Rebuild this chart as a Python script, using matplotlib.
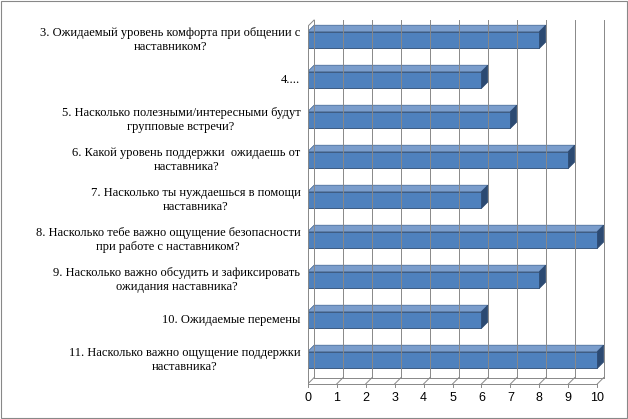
import matplotlib
matplotlib.use('Agg')
import matplotlib.pyplot as plt
from matplotlib.patches import Polygon

questions = [
    "3. Ожидаемый уровень комфорта при общении с\nнаставником?",
    "4....",
    "5. Насколько полезными/интересными будут\nгрупповые встречи?",
    "6. Какой уровень поддержки  ожидаешь от\nнаставника?",
    "7. Насколько ты нуждаешься в помощи\nнаставника?",
    "8. Насколько тебе важно ощущение безопасности\nпри работе с наставником?",
    "9. Насколько важно обсудить и зафиксировать\nожидания наставника?",
    "10. Ожидаемые перемены",
    "11. Насколько важно ощущение поддержки\nнаставника?",
]
scores = [8, 6, 7, 9, 6, 10, 8, 6, 10]
ticks = list(range(0, 11))

plt.rcParams['font.family'] = ['Liberation Serif', 'DejaVu Serif']

fig = plt.figure(figsize=(6.28, 4.19), dpi=100)
ax = fig.add_axes([0.49, 0.074, 0.498, 0.883])
ax.set_xlim(0, 10.8)
ax.set_ylim(8.7, -0.55)
ax.axis('off')

dx, dy = 0.22, 0.16
bottom = 8.6
top = -0.5
grid = '#888888'

# back wall gridlines and floor
for t in ticks:
    ax.plot([t + dx, t + dx], [bottom - dy, top], color=grid, lw=0.7)
    ax.plot([t, t + dx], [bottom, bottom - dy], color=grid, lw=0.7)
ax.plot([0, 10], [bottom, bottom], color=grid, lw=0.7)
ax.plot([dx, 10 + dx], [bottom - dy, bottom - dy], color=grid, lw=0.7)
ax.plot([0, 0], [bottom, top + dy], color=grid, lw=0.7)
ax.plot([0, dx], [top + dy, top], color=grid, lw=0.7)

h = 0.42
for i, v in enumerate(scores):
    y0, y1 = i - h / 2, i + h / 2
    ax.add_patch(Polygon([(0, y0), (dx, y0 - dy), (v + dx, y0 - dy), (v, y0)],
                         closed=True, facecolor='#7A9DCC', edgecolor='#3A5F8F', lw=0.5))
    ax.add_patch(Polygon([(v, y0), (v + dx, y0 - dy), (v + dx, y1 - dy), (v, y1)],
                         closed=True, facecolor='#2C4A72', edgecolor='#2C4A72', lw=0.5))
    ax.add_patch(Polygon([(0, y0), (v, y0), (v, y1), (0, y1)],
                         closed=True, facecolor='#4F81BD', edgecolor='#2C4A72', lw=0.6))
    ax.text(-0.25, i, questions[i], ha='right', va='center', fontsize=9,
            multialignment='center')

for t in ticks:
    ax.plot([t, t], [bottom, bottom + 0.08], color=grid, lw=0.7)
    ax.text(t, bottom + 0.2, str(t), ha='center', va='top', fontsize=9,
            family=['Liberation Sans', 'DejaVu Sans'])

fig.patches.append(Polygon([(0.002, 0.002), (0.998, 0.002), (0.998, 0.998), (0.002, 0.998)],
                           closed=True, fill=False, edgecolor='#888888', lw=0.8,
                           transform=fig.transFigure))
fig.savefig('out.png', dpi=100)
